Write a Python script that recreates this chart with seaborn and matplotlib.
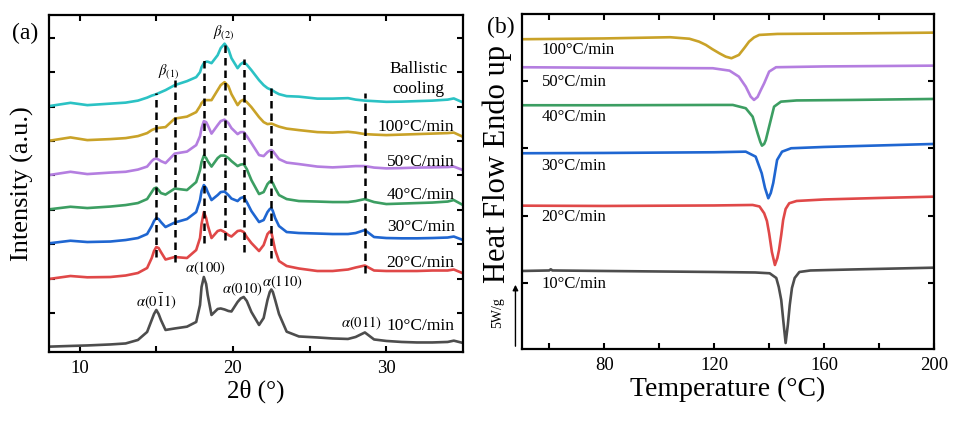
import matplotlib
matplotlib.use('Agg')
import matplotlib.pyplot as plt
import numpy as np
import pandas as pd
import seaborn as sns

# ─── XRD data (panel a) ──────────────────────────────────────────────────────
two_theta = [8, 9.4, 10.5, 12, 13, 13.8, 14.4, 14.7, 14.85, 15.0,
             15.15, 15.3, 15.6, 16.2, 17.0, 17.6, 17.85, 17.95, 18.1, 18.25,
             18.35, 18.6, 19.0, 19.2, 19.45, 19.7, 19.9, 20.3, 20.5, 20.7,
             20.9, 21.2, 21.7, 22.0, 22.25, 22.4, 22.5, 22.6, 22.75, 23.0,
             23.5, 24.3, 25.5, 26.5, 27.5, 28.0, 28.6, 29.2, 30, 31,
             32, 33, 34, 34.4, 35]

xrd_10 = [5.3, 6, 6.5, 7.5, 8.5, 12, 20, 32, 38, 42,
          38, 32, 22, 23.5, 25.3, 30, 47, 65, 75, 68,
          57, 37, 43, 43.5, 42.5, 41, 40.5, 50, 53.5, 55,
          51, 40, 27, 34, 52, 60, 62.5, 60, 52, 38,
          20.3, 15.5, 14.5, 13.5, 13, 15, 19.5, 12.5, 11, 10,
          9.5, 9.5, 10, 11.3, 9]
xrd_20 = [73, 76, 74.7, 75, 76.5, 79, 84, 94, 101, 105,
          104, 100, 92.5, 95, 94, 102, 114, 128, 140, 134,
          127, 114, 121, 122, 120, 117, 115.5, 121, 121.5, 120,
          115, 109, 101, 107, 118, 120.5, 120, 113, 102, 91,
          86, 83.5, 81, 81, 82.5, 84.5, 86.5, 81.5, 81, 81,
          81, 81.5, 81.5, 82.5, 78.7]
xrd_30 = [108.7, 111.3, 110, 110.5, 112, 114, 118, 126, 131, 134,
          133, 130, 125, 129.5, 133, 140, 152, 161, 167, 164,
          160, 152, 157, 160, 160.5, 157, 153.5, 151, 154, 155,
          150, 141, 130, 132, 140, 143, 144, 141, 134, 126,
          120, 119, 118.5, 118, 118, 119, 122, 115, 114, 113.7,
          113.7, 114, 114.5, 115.5, 112]
xrd_40 = [142.7, 145.3, 144, 145.5, 147, 149, 153, 160, 163.5, 164.5,
          162, 159, 157.5, 163.5, 162, 170, 182, 190, 196.5, 194,
          191, 185.5, 194, 196.5, 196.5, 194, 191, 186, 187.5, 188,
          183, 172, 158, 160, 168, 170.5, 171, 169, 164, 157,
          153, 151, 150.5, 150, 150, 151, 153, 150, 148, 148.5,
          149, 149.5, 150.5, 152, 147]
xrd_50 = [177, 180.3, 178, 179.5, 180.3, 182.5, 185.5, 191, 193, 193.5,
          192.5, 191, 189, 198.5, 200.5, 207, 216, 224, 231, 230,
          227, 218.5, 227, 231, 232.5, 229, 224, 218, 220, 220,
          216, 209, 197, 196, 200, 201.5, 202, 201, 198, 193,
          189.5, 188, 185.5, 184.7, 185.5, 186, 186, 184.5, 183.7, 184,
          184.5, 184.7, 185, 185.5, 182]
xrd_100 = [211.3, 214.7, 212, 213, 214, 216, 219, 222, 223, 223.7,
           224.2, 224.5, 225, 233.5, 235.5, 240, 246, 249, 251.5, 252,
           252, 252, 262, 267, 270, 266, 258, 247, 251, 252.5,
           250, 245, 235, 230, 228, 228.3, 228.5, 228, 227, 225.5,
           223.5, 222, 220, 219.5, 220.3, 219.5, 218, 217.5, 217, 217.5,
           218, 218.5, 219, 219.5, 215.3]
xrd_ballistic = [246, 249.3, 247, 248.5, 249.5, 251.5, 254.5, 256.5, 257.2, 258,
                 259, 260, 262, 267, 271, 275, 280, 285, 289, 290.5,
                 290.5, 289, 297, 304, 308.5, 303, 294, 284, 288, 290,
                 287.5, 282, 272, 267, 264, 263, 262.5, 261.5, 260, 258,
                 256, 255.5, 253.5, 253.5, 254, 252.5, 251.5, 251, 250.3, 250.5,
                 251, 251.5, 252.5, 253.7, 249.7]

xrd_names = ['10', '20', '30', '40', '50', '100', 'ballistic']
xrd_labels = ['10°C/min', '20°C/min', '30°C/min', '40°C/min', '50°C/min',
              '100°C/min', 'Ballistic\ncooling']
xrd_label_y = [26, 89, 125, 157, 190, 225, 273]

# dashed reference lines: position, lower end, upper end
ref_pos = [15.0, 16.2, 18.1, 19.45, 20.7, 22.5, 28.6]
ref_lo = [95, 90, 109, 112, 100, 94, 79]
ref_hi = [259, 272, 294, 312, 293, 267, 259]

peak_labels = [r'$\alpha(0\bar{1}1)$', r'$\alpha(100)$', r'$\alpha(010)$',
               r'$\alpha(110)$', r'$\alpha(011)$', r'$\beta_{(1)}$', r'$\beta_{(2)}$']
peak_label_x = [15.0, 18.2, 20.6, 23.2, 28.4, 15.8, 19.4]
peak_label_y = [50, 84, 63, 70, 29, 281, 320]

# ─── DSC data (panel b) ──────────────────────────────────────────────────────
T_10 = [50, 60, 60.6, 61.2, 80, 100, 120, 135, 140.2, 142.6, 143.5, 144.4, 145.2,
        146.0, 146.8, 147.5, 148.3, 149.3, 151, 155, 170, 200]
hf_10 = [78, 78.5, 79.7, 78.5, 78, 77.5, 77, 76.5, 75.7, 71, 62, 49, 27, 6, 24, 44,
         61, 71, 77, 78.5, 79.5, 81.3]
T_20 = [50, 80, 120, 134, 136.5, 138.2, 139.2, 140.0, 141.0, 142.1, 143.0, 143.6,
        144.4, 145.1, 146.0, 147.3, 150, 160, 180, 200]
hf_20 = [143.3, 143, 143.5, 144, 142.5, 135.7, 128, 115.7, 97, 84, 91, 99, 114, 129,
         140, 145.7, 148, 149.5, 151, 152.3]
T_30 = [50, 80, 120, 131.5, 135.1, 137.3, 138.5, 139.7, 140.6, 141.5, 142.9, 144.7,
        148, 160, 180, 200]
hf_30 = [195.7, 196, 196.7, 197.3, 192.3, 175.7, 161, 150.7, 156, 166, 189, 197.3,
         200.7, 202, 203.5, 205]
T_40 = [50, 80, 120, 126.8, 131.5, 134, 135.8, 136.8, 137.4, 138.2, 138.8, 140.3,
        141.8, 144.3, 150, 170, 200]
hf_40 = [243.7, 243.7, 244, 244, 240.7, 232.3, 215.7, 207, 203.3, 205, 209, 225.7,
         242.3, 247.3, 248.5, 249, 250]
T_50 = [50, 80, 119.5, 125.6, 129, 131.5, 133.3, 134.5, 135.8, 137, 138.2, 140,
        142.5, 160, 200]
hf_50 = [281.7, 281.2, 280.7, 278.3, 272.3, 262.3, 252.3, 249, 252, 259, 265.7,
         277.3, 281.7, 282.5, 283.3]
T_100 = [50, 80, 104, 111, 114.5, 117, 119.4, 122, 124.2, 126.3, 129, 131, 132.7,
         134.5, 136.4, 143, 170, 200]
hf_100 = [309.7, 310.5, 311.7, 310.2, 307.3, 304, 299.7, 295.5, 292.3, 290.7, 294,
          301, 307.3, 311.5, 314, 315, 315.5, 316.3]

dsc_names = ['10', '20', '30', '40', '50', '100']
dsc_labels = ['10°C/min', '20°C/min', '30°C/min', '40°C/min', '50°C/min', '100°C/min']
dsc_label_y = [65, 132, 183, 232, 267, 299]

palette = {'10': '#4d4d4d', '20': '#e04848', '30': '#1f66d1', '40': '#3c9e62',
           '50': '#b47ee0', '100': '#c9a228', 'ballistic': '#2bc2c4'}

# ─── Style ───────────────────────────────────────────────────────────────────
sns.set_theme(style='ticks')
plt.rcParams['font.family'] = ['Liberation Serif', 'DejaVu Serif']
plt.rcParams['mathtext.fontset'] = 'stix'
plt.rcParams['axes.linewidth'] = 1.6
plt.rcParams['axes.edgecolor'] = 'black'
plt.rcParams['text.color'] = 'black'
plt.rcParams['axes.labelcolor'] = 'black'

fig = plt.figure(figsize=(9.66, 4.22), dpi=100)
ax_a = fig.add_axes([0.0507, 0.166, 0.4286, 0.798])
ax_b = fig.add_axes([0.540, 0.173, 0.427, 0.794])


def style_ticks(ax):
    ax.tick_params(axis='both', which='both', direction='in', top=True, right=True,
                   length=4, width=1.5, colors='black', labelsize=13.5, pad=6)
    ax.tick_params(axis='y', labelleft=False)


# ─── Panel (a) ───────────────────────────────────────────────────────────────
xrd_series = [xrd_10, xrd_20, xrd_30, xrd_40, xrd_50, xrd_100, xrd_ballistic]
df_xrd = pd.concat([pd.DataFrame({'two_theta': two_theta, 'intensity': vals,
                                  'rate': name})
                    for name, vals in zip(xrd_names, xrd_series)])
sns.lineplot(data=df_xrd, x='two_theta', y='intensity', hue='rate', palette=palette,
             estimator=None, sort=False, legend=False, lw=1.9, ax=ax_a)
for line in ax_a.get_lines():
    line.set_solid_joinstyle('round')

for xp, lo, hi in zip(ref_pos, ref_lo, ref_hi):
    ax_a.plot([xp, xp], [lo, hi], color='black', lw=1.8, ls=(0, (3, 2)), zorder=5)

for txt, xp, yp in zip(peak_labels, peak_label_x, peak_label_y):
    ax_a.text(xp, yp, txt, fontsize=10.5, ha='center', va='center')

for txt, yp in zip(xrd_labels, xrd_label_y):
    if '\n' in txt:
        ax_a.text(32.1, yp, txt, fontsize=12.5, ha='center', va='center',
                  linespacing=1.3)
    else:
        ax_a.text(34.45, yp, txt, fontsize=12.5, ha='right', va='center')

ax_a.set_xlim(8, 35)
ax_a.set_ylim(0, 337)
ax_a.set_xticks([10, 20, 30])
ax_a.set_xticks([15, 25], minor=True)
ax_a.set_yticks(np.arange(39, 330, 34.4))
style_ticks(ax_a)
ax_a.set_xlabel('2θ (°)', fontsize=18, labelpad=2)
ax_a.set_ylabel('Intensity (a.u.)', fontsize=19)
ax_a.yaxis.set_label_coords(-0.035, 0.5)
fig.text(0.026, 0.92, '(a)', fontsize=17, ha='center', va='center')

# ─── Panel (b) ───────────────────────────────────────────────────────────────
dsc_T = [T_10, T_20, T_30, T_40, T_50, T_100]
dsc_hf = [hf_10, hf_20, hf_30, hf_40, hf_50, hf_100]
df_dsc = pd.concat([pd.DataFrame({'T': t, 'hf': h, 'rate': name})
                    for name, t, h in zip(dsc_names, dsc_T, dsc_hf)])
sns.lineplot(data=df_dsc, x='T', y='hf', hue='rate', palette=palette,
             estimator=None, sort=False, legend=False, lw=1.9, ax=ax_b)
for line in ax_b.get_lines():
    line.set_solid_joinstyle('round')

for txt, yp in zip(dsc_labels, dsc_label_y):
    ax_b.text(57.2, yp, txt, fontsize=12, ha='left', va='center')

ax_b.set_xlim(50, 200)
ax_b.set_ylim(0, 335)
ax_b.set_xticks([80, 120, 160, 200])
ax_b.set_xticks([60, 100, 140, 180], minor=True)
ax_b.set_yticks(np.arange(66, 330, 67.3))
style_ticks(ax_b)
ax_b.set_xlabel('Temperature (°C)', fontsize=20, labelpad=2)
ax_b.set_ylabel('Heat Flow Endo up', fontsize=22)
ax_b.yaxis.set_label_coords(-0.024, 0.552)

# scale bar: 5 W/g arrow left of the axis
ax_b.annotate('', xy=(-0.015, 67), xytext=(-0.015, 0),
              xycoords=ax_b.get_yaxis_transform(),
              textcoords=ax_b.get_yaxis_transform(),
              arrowprops=dict(arrowstyle='-|>', color='black', lw=1.0,
                              mutation_scale=8), annotation_clip=False)
ax_b.text(-0.058, 36, '5W/g', transform=ax_b.get_yaxis_transform(),
          rotation=90, fontsize=10, ha='center', va='center')
fig.text(0.518, 0.935, '(b)', fontsize=17, ha='center', va='center')

fig.savefig('out.png', dpi=100)
